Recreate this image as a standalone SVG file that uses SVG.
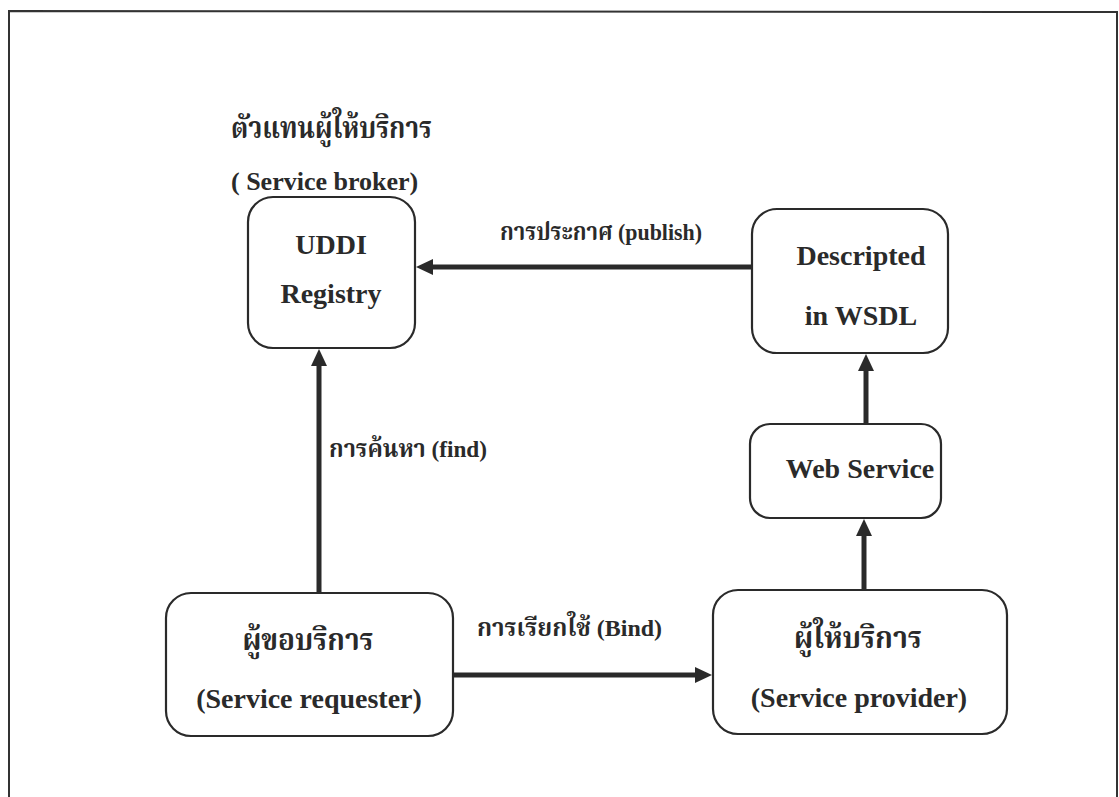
<svg xmlns="http://www.w3.org/2000/svg" width="1119" height="797" viewBox="0 0 1119 797">
  <style>
    .frame { fill: none; stroke: #333; stroke-width: 2; }
    .box { fill: #fff; stroke: #2a2a2a; stroke-width: 2.2; }
    .txt { font-family: "Liberation Serif", "Noto Serif Thai", "Noto Sans Thai", serif; font-weight: bold; fill: #2a2a2a; }
    .node { font-size: 28px; text-anchor: middle; }
    .lbl { font-size: 24px; }
    .wire { stroke: #2a2a2a; stroke-width: 5; fill: none; marker-end: url(#head); }
  </style>
  <defs>
    <marker id="head" markerUnits="userSpaceOnUse" markerWidth="18" markerHeight="16" refX="2" refY="8" orient="auto">
      <path d="M0,0 L17,8 L0,16 z" fill="#2a2a2a"/>
    </marker>
  </defs>

  <rect width="1119" height="797" fill="#fff"/>
  <!-- page frame (open at the bottom) -->
  <path class="frame" d="M9,800 L9,11 L1117,12 L1117,800"/>

  <!-- heading above the broker -->
  <g id="broker-heading" class="txt">
    <text x="231" y="138" font-size="30" textLength="201" lengthAdjust="spacingAndGlyphs">ตัวแทนผู้ให้บริการ</text>
    <text x="231" y="190" font-size="26">( Service broker)</text>
  </g>

  <!-- connectors -->
  <g id="connectors">
    <path class="wire" d="M752,267 L431,267"/>
    <path class="wire" d="M319,593 L319,364"/>
    <path class="wire" d="M453,675 L697,675"/>
    <path class="wire" d="M866,424 L866,369"/>
    <path class="wire" d="M864,590 L864,534"/>
  </g>

  <!-- connector labels -->
  <g id="labels" class="txt lbl">
    <text x="500" y="240" textLength="202" lengthAdjust="spacingAndGlyphs">การประกาศ (publish)</text>
    <text x="329" y="457" textLength="158" lengthAdjust="spacingAndGlyphs">การค้นหา (find)</text>
    <text x="477" y="636" textLength="185" lengthAdjust="spacingAndGlyphs">การเรียกใช้ (Bind)</text>
  </g>

  <g id="uddi-registry" class="txt node">
    <rect class="box" x="248" y="197" width="167" height="151" rx="25"/>
    <text x="331" y="254">UDDI</text>
    <text x="331" y="303">Registry</text>
  </g>

  <g id="wsdl" class="txt node">
    <rect class="box" x="752" y="209" width="196" height="144" rx="25"/>
    <text x="861" y="265">Descripted</text>
    <text x="861" y="325">in WSDL</text>
  </g>

  <g id="web-service" class="txt node">
    <rect class="box" x="750" y="424" width="191" height="94" rx="20"/>
    <text x="860" y="478">Web Service</text>
  </g>

  <g id="requester" class="txt node">
    <rect class="box" x="166" y="593" width="287" height="143" rx="25"/>
    <text x="308" y="650" font-size="30" textLength="131" lengthAdjust="spacingAndGlyphs">ผู้ขอบริการ</text>
    <text x="309" y="708">(Service requester)</text>
  </g>

  <g id="provider" class="txt node">
    <rect class="box" x="713" y="590" width="294" height="144" rx="25"/>
    <text x="858" y="648" font-size="30" textLength="128" lengthAdjust="spacingAndGlyphs">ผู้ให้บริการ</text>
    <text x="859" y="707">(Service provider)</text>
  </g>
</svg>
